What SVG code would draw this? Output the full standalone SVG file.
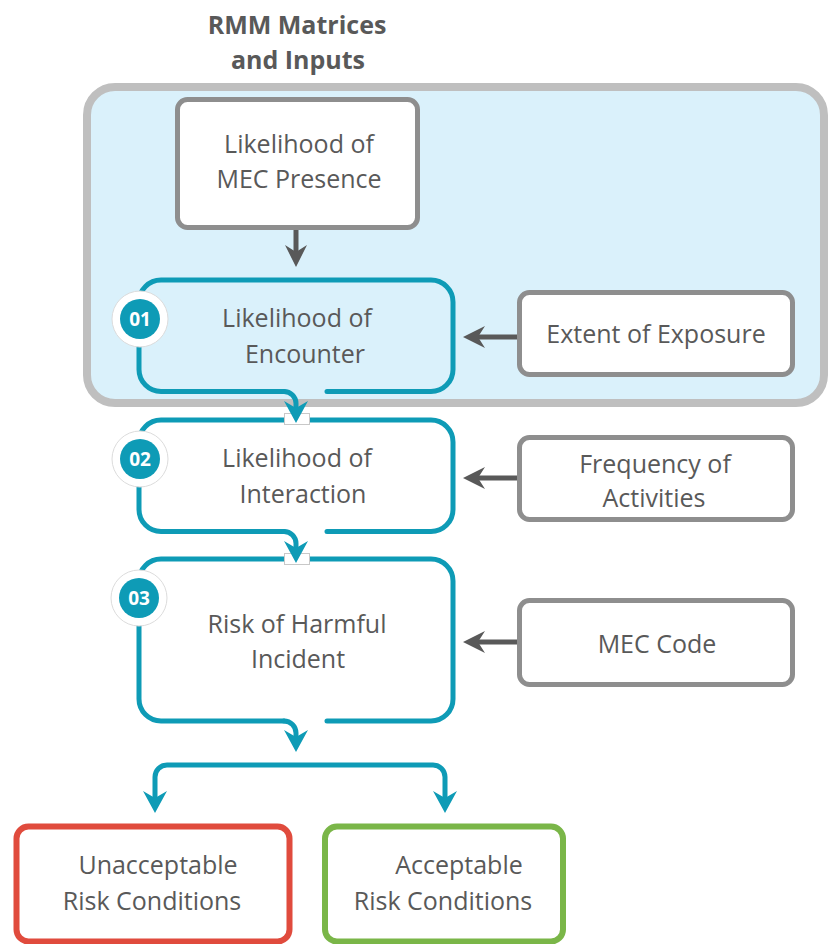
<svg xmlns="http://www.w3.org/2000/svg" width="828" height="944" viewBox="0 0 828 944">
  <style>
    .lbl { font-family: "Open Sans", "Liberation Sans", sans-serif; font-size: 25px; fill: #595959; text-anchor: middle; }
    .title { font-family: "Open Sans", "Liberation Sans", sans-serif; font-size: 25px; font-weight: 700; fill: #595959; text-anchor: middle; }
    .step { fill: none; stroke: #0e9bb6; stroke-width: 5; stroke-linecap: round; stroke-linejoin: round; }
    .input { fill: #ffffff; stroke: #8e8e8e; stroke-width: 5; }
    .badge-ring { fill: #ffffff; stroke: #dcdcdc; stroke-width: 1; }
    .badge-dot { fill: #0e9bb6; }
    .badge-num { font-family: "Open Sans", "Liberation Sans", sans-serif; font-size: 19px; font-weight: 700; fill: #ffffff; text-anchor: middle; }
    .flow { fill: none; stroke: #0e9bb6; stroke-width: 5; stroke-linecap: round; stroke-linejoin: round; }
    .feed { fill: none; stroke: #595959; stroke-width: 5; }
    .notch { fill: #ffffff; stroke: #c8c8c8; stroke-width: 1; }
  </style>
  <defs>
    <marker id="tealHead" viewBox="0 0 24 26" refX="14" refY="13" markerWidth="24" markerHeight="26" markerUnits="userSpaceOnUse" orient="auto-start-reverse">
      <path d="M0,1 L22,13 L0,25 L7,13 Z" fill="#0e9bb6"/>
    </marker>
    <marker id="greyHead" viewBox="0 0 24 24" refX="14" refY="12" markerWidth="24" markerHeight="24" markerUnits="userSpaceOnUse" orient="auto">
      <path d="M0,1 L22,12 L0,23 L7,12 Z" fill="#595959"/>
    </marker>
  </defs>

  <rect width="828" height="944" fill="#ffffff"/>

  <!-- title -->
  <g id="title">
    <text class="title" x="297" y="34">RMM Matrices</text>
    <text class="title" x="298" y="69">and Inputs</text>
  </g>

  <!-- shaded container for the matrix inputs -->
  <g id="rmm-container">
    <rect x="87" y="87" width="737" height="316" rx="28" fill="#daf1fb" stroke="#bfbfbf" stroke-width="8"/>
  </g>

  <!-- input boxes -->
  <g id="mec-presence">
    <rect class="input" x="177.5" y="99.5" width="240" height="128" rx="10"/>
    <text class="lbl" x="299" y="153">Likelihood of</text>
    <text class="lbl" x="299" y="188">MEC Presence</text>
  </g>
  <g id="extent-exposure">
    <rect class="input" x="519.5" y="292.5" width="273" height="82" rx="10"/>
    <text class="lbl" x="656" y="343">Extent of Exposure</text>
  </g>
  <g id="frequency-activities">
    <rect class="input" x="519.5" y="437.5" width="273" height="82" rx="10"/>
    <text class="lbl" x="655" y="473">Frequency of</text>
    <text class="lbl" x="654" y="507">Activities</text>
  </g>
  <g id="mec-code">
    <rect class="input" x="519.5" y="600.5" width="273" height="84" rx="10"/>
    <text class="lbl" x="657" y="653">MEC Code</text>
  </g>

  <!-- step boxes (open at the bottom where the flow leaves) -->
  <g id="step-01">
    <path class="step" d="M327,391.5 H431 A22,22 0 0 0 453,369.5 V302 A22,22 0 0 0 431,280 H161 A22,22 0 0 0 139,302 V369.5 A22,22 0 0 0 161,391.5 H284"/>
    <text class="lbl" x="297" y="327">Likelihood of</text>
    <text class="lbl" x="305" y="363">Encounter</text>
    <circle class="badge-ring" cx="140" cy="319" r="28"/>
    <circle class="badge-dot" cx="140" cy="319" r="20"/>
    <text class="badge-num" x="140" y="326">01</text>
  </g>
  <g id="step-02">
    <path class="step" d="M327,531.5 H431 A22,22 0 0 0 453,509.5 V442 A22,22 0 0 0 431,420 H161 A22,22 0 0 0 139,442 V509.5 A22,22 0 0 0 161,531.5 H284"/>
    <text class="lbl" x="297" y="467">Likelihood of</text>
    <text class="lbl" x="303" y="503">Interaction</text>
    <circle class="badge-ring" cx="140" cy="459" r="28"/>
    <circle class="badge-dot" cx="140" cy="459" r="20"/>
    <text class="badge-num" x="140" y="466">02</text>
  </g>
  <g id="step-03">
    <path class="step" d="M327,721 H431 A22,22 0 0 0 453,699 V581 A22,22 0 0 0 431,559 H161 A22,22 0 0 0 139,581 V699 A22,22 0 0 0 161,721 H284"/>
    <text class="lbl" x="297" y="633">Risk of Harmful</text>
    <text class="lbl" x="298" y="668">Incident</text>
    <circle class="badge-ring" cx="139" cy="598" r="28"/>
    <circle class="badge-dot" cx="139" cy="598" r="20"/>
    <text class="badge-num" x="139" y="605">03</text>
  </g>

  <!-- outcome boxes -->
  <g id="unacceptable">
    <rect x="16.5" y="826.5" width="273" height="115" rx="12" fill="#ffffff" stroke="#e04b3d" stroke-width="6"/>
    <text class="lbl" x="158" y="874">Unacceptable</text>
    <text class="lbl" x="152" y="910">Risk Conditions</text>
  </g>
  <g id="acceptable">
    <rect x="325" y="826.5" width="238" height="115" rx="12" fill="#ffffff" stroke="#7ab648" stroke-width="6"/>
    <text class="lbl" x="459" y="874">Acceptable</text>
    <text class="lbl" x="443" y="910">Risk Conditions</text>
  </g>

  <!-- connectors -->
  <g id="connectors">
    <path class="feed" d="M296,230 V259" marker-end="url(#greyHead)"/>
    <path class="feed" d="M517,337 H471" marker-end="url(#greyHead)"/>
    <path class="feed" d="M517,478 H471" marker-end="url(#greyHead)"/>
    <path class="feed" d="M517,642 H471" marker-end="url(#greyHead)"/>

    <rect class="notch" x="284.5" y="413.5" width="25" height="11"/>
    <path class="flow" d="M284,391.5 A12,12 0 0 1 296,403.5 V415" marker-end="url(#tealHead)"/>
    <rect class="notch" x="284.5" y="553.5" width="25" height="11"/>
    <path class="flow" d="M284,531.5 A12,12 0 0 1 296,543.5 V555" marker-end="url(#tealHead)"/>
    <path class="flow" d="M284,721 A12,12 0 0 1 296,733 V744" marker-end="url(#tealHead)"/>
    <path class="flow" d="M155,805 V777 A12,12 0 0 1 167,765 H433 A12,12 0 0 1 445,777 V805" marker-start="url(#tealHead)" marker-end="url(#tealHead)"/>
  </g>
</svg>
